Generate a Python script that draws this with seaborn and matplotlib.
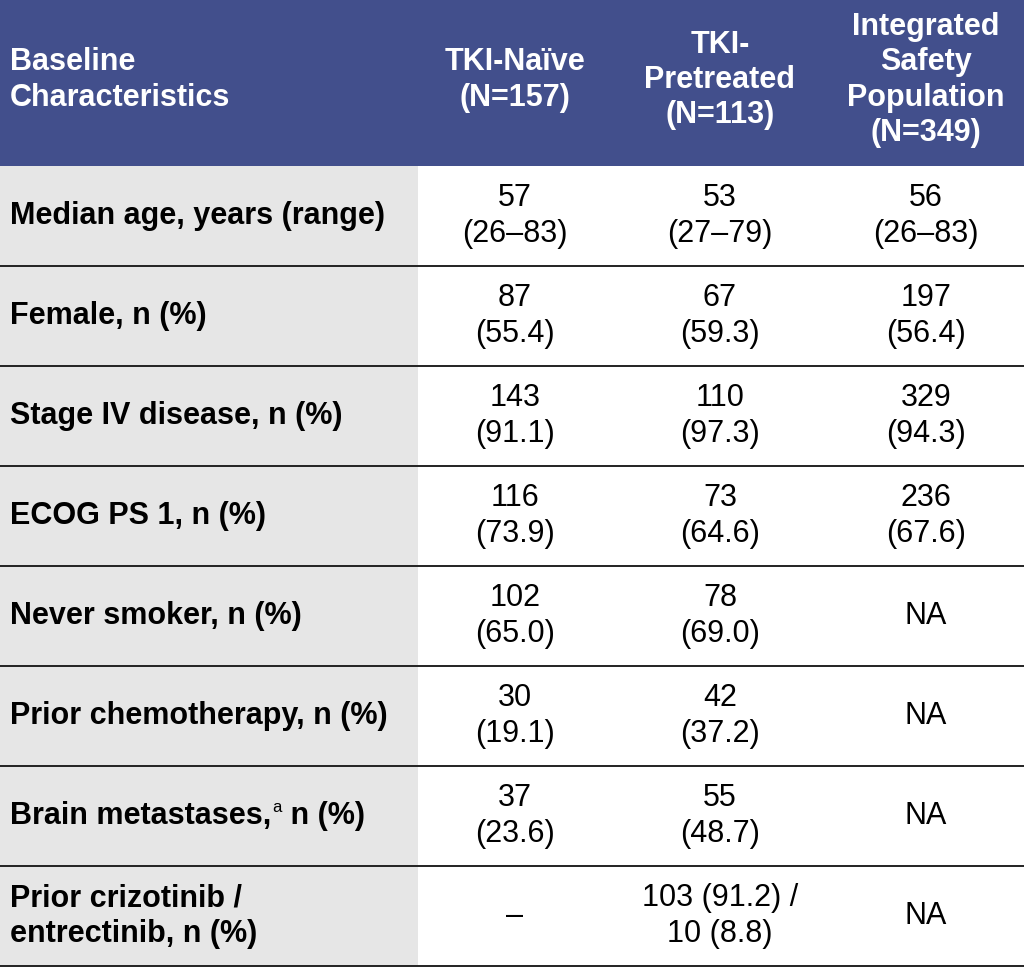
import matplotlib
matplotlib.use("Agg")
import matplotlib.pyplot as plt
import seaborn as sns

sns.set_theme(style="white")
plt.rcParams["font.family"] = ["Liberation Sans", "DejaVu Sans"]

HEADER_BG = "#424F8C"
LABEL_BG = "#E6E6E6"
LINE_COLOR = "#222222"

col_headers = ["Baseline\nCharacteristics", "TKI-Naïve\n(N=157)",
               "TKI-\nPretreated\n(N=113)",
               "Integrated\nSafety\nPopulation\n(N=349)"]

row_labels = [
    "Median age, years (range)",
    "Female, n (%)",
    "Stage IV disease, n (%)",
    "ECOG PS 1, n (%)",
    "Never smoker, n (%)",
    "Prior chemotherapy, n (%)",
    "Brain metastases,{a} n (%)",
    "Prior crizotinib /\nentrectinib, n (%)",
]
tki_naive = ["57\n(26–83)", "87\n(55.4)", "143\n(91.1)", "116\n(73.9)",
             "102\n(65.0)", "30\n(19.1)", "37\n(23.6)", "–"]
tki_pretreated = ["53\n(27–79)", "67\n(59.3)", "110\n(97.3)", "73\n(64.6)",
                  "78\n(69.0)", "42\n(37.2)", "55\n(48.7)",
                  "103 (91.2) /\n10 (8.8)"]
integrated = ["56\n(26–83)", "197\n(56.4)", "329\n(94.3)", "236\n(67.6)",
              "NA", "NA", "NA", "NA"]

W, H = 1024, 967
col_edges = [0, 418, 612, 828, 1024]
header_h = 166
row_h = 100
FS = 22
LS = 1.25

fig = plt.figure(figsize=(W / 100, H / 100), dpi=100)
ax = fig.add_axes([0, 0, 1, 1])
ax.set_xlim(0, W)
ax.set_ylim(H, 0)
ax.axis("off")

n_rows = len(row_labels)
body_bottom = header_h + n_rows * row_h

# backgrounds
ax.axhspan(0, header_h, color=HEADER_BG, lw=0)
ax.fill_between([col_edges[0], col_edges[1]], header_h, body_bottom,
                color=LABEL_BG, lw=0)

# header text
ax.text(10, header_h / 2 - 3, col_headers[0], color="white", fontsize=FS,
        fontweight="bold", ha="left", va="center", linespacing=1.22)
for j in range(1, 4):
    cx = (col_edges[j] + col_edges[j + 1]) / 2
    ax.text(cx, header_h / 2 - 3, col_headers[j], color="white", fontsize=FS,
            fontweight="bold", ha="center", va="center", ma="center",
            linespacing=1.22)

# body
fig.canvas.draw()
renderer = fig.canvas.get_renderer()
inv = ax.transData.inverted()
for i, label in enumerate(row_labels):
    cy = header_h + i * row_h + row_h / 2
    if "{a}" in label:
        pre, post = label.split("{a}")
        t = ax.text(10, cy, pre, fontsize=FS, fontweight="bold", color="black",
                    ha="left", va="center")
        bb = t.get_window_extent(renderer)
        x_end = inv.transform((bb.x1, bb.y0))[0]
        sup = ax.text(x_end + 1, cy - 9, "a", fontsize=FS * 0.55, color="black",
                      ha="left", va="center")
        bb2 = sup.get_window_extent(renderer)
        x_end2 = inv.transform((bb2.x1, bb2.y0))[0]
        ax.text(x_end2, cy, post, fontsize=FS, fontweight="bold", color="black",
                ha="left", va="center")
    else:
        ax.text(10, cy, label, fontsize=FS, fontweight="bold", color="black",
                ha="left", va="center", linespacing=LS)
    for j, col in enumerate([tki_naive, tki_pretreated, integrated], start=1):
        cx = (col_edges[j] + col_edges[j + 1]) / 2
        ax.text(cx, cy, col[i], fontsize=FS, color="black", ha="center",
                va="center", ma="center", linespacing=LS)
    ax.axhline(header_h + (i + 1) * row_h, color=LINE_COLOR, lw=1.4)

fig.savefig("out.png", dpi=100, facecolor="white")
